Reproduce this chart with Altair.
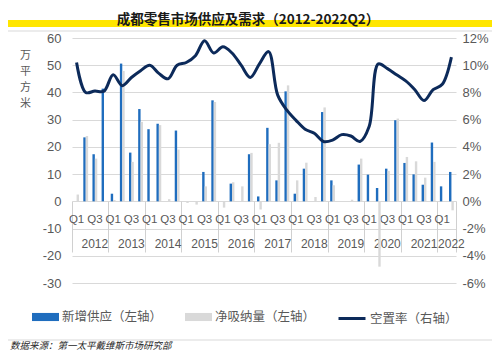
import altair as alt
import pandas as pd

# ---------------- data ----------------
years = [2012, 2013, 2014, 2015, 2016, 2017, 2018, 2019, 2020, 2021, 2022]
quarter_names = ["Q1", "Q2", "Q3", "Q4"]
quarters = [f"{y}{q}" for y in years for q in quarter_names][:42]

# 新增供应 (万平方米)
supply = [0, 23.5, 17.3, 41.4,
          2.8, 50.6, 17.9, 33.9,
          26.5, 28.5, 0, 26.0,
          0, 0, 10.8, 37.1,
          0, 6.5, 0, 17.3,
          1.8, 27.0, 7.7, 40.4,
          2.8, 12.0, 0, 32.8,
          7.7, 0, 0, 13.5,
          9.8, 4.9, 12.0, 29.8,
          14.1, 9.9, 6.1, 21.6,
          5.5, 10.8]

# 净吸纳量 (万平方米)
absorption = [2.5, 24.0, 15.7, 0,
              0.5, 47.9, 14.5, 29.2,
              0, 28.0, 0.8, 19.0,
              -0.6, -1.2, 5.5, 36.5,
              -2.3, 7.0, 5.5, 17.8,
              -3.0, 21.0, 21.5, 42.6,
              7.7, 14.2, 1.6, 34.5,
              5.9, 0, 0.6, 15.7,
              0, -24.0, 11.2, 30.4,
              16.3, 14.7, 8.7, 14.5,
              0, -3.3]

# 空置率 (%)
vacancy = [10.2, 8.0, 8.1, 8.1,
           9.3, 8.5, 9.1, 9.6,
           10.0, 9.4, 9.0, 10.0,
           10.2, 10.7, 11.8, 10.9,
           11.35, 10.9, 10.0, 9.1,
           10.1, 11.0, 7.8, 6.7,
           5.95, 5.3, 5.0, 4.4,
           4.5, 4.9, 4.8, 4.4,
           5.5, 10.1, 9.75, 9.3,
           8.85, 8.2, 7.4, 8.2,
           8.6, 10.6]

S1 = "新增供应（左轴）"
S2 = "净吸纳量（左轴）"
S3 = "空置率（右轴）"
TITLE = "成都零售市场供应及需求（2012-2022Q2）"
SOURCE = "数据来源：第一太平戴维斯市场研究部"

left_ticks = [-30, -20, -10, 0, 10, 20, 30, 40, 50, 60]
right_ticks = [-0.06, -0.04, -0.02, 0, 0.02, 0.04, 0.06, 0.08, 0.10, 0.12]

# ---------------- styling ----------------
BLUE = "#1F6DBE"
GRAY = "#D9D9D9"
NAVY = "#0C2A5A"
YELLOW = "#FFE600"
TXT = "#595959"
CJK = "Noto Sans CJK SC"
NUM = "Liberation Sans"

W, H = 384, 245
ZERO_OFF = -82  # move category axes up to the zero line

bars_df = pd.DataFrame({
    "quarter": quarters * 2,
    "series": [S1] * len(quarters) + [S2] * len(quarters),
    "value": supply + absorption,
})
line_df = pd.DataFrame({
    "quarter": quarters,
    "rate": [v / 100 for v in vacancy],
    "s": [S3] * len(quarters),
})
one = pd.DataFrame({"k": [0]})

xs = alt.Scale(type="band", domain=quarters, paddingInner=0, paddingOuter=0)

q_vals = [q for q in quarters if q[-2:] in ("Q1", "Q3")]
year_vals = [q for q in quarters if q[-2:] == "Q3"] + ["2022Q2"]
sep_vals = [q for q in quarters if q[-2:] == "Q1"]

bars = alt.Chart(bars_df).mark_bar().encode(
    x=alt.X("quarter:N", scale=xs, sort=quarters,
            axis=alt.Axis(orient="bottom", offset=ZERO_OFF, values=q_vals,
                          labelExpr="substring(datum.value, 4)", ticks=False,
                          domain=False, grid=False, labelAngle=0, labelPadding=12,
                          labelFontSize=11.5, labelColor=TXT, labelFont=NUM,
                          labelOverlap=False, title=None)),
    xOffset=alt.XOffset("series:N", scale=alt.Scale(domain=[S1, S2], paddingInner=0,
                                                    paddingOuter=0.9)),
    y=alt.Y("value:Q", scale=alt.Scale(domain=[-30, 60], nice=False, zero=False),
            axis=alt.Axis(orient="left", values=left_ticks, grid=True, gridColor=GRAY,
                          gridWidth=1, ticks=False, domain=False, labelPadding=11,
                          labelFontSize=13, labelColor=TXT, labelFont=NUM,
                          labelExpr="replace(datum.label, '\u2212', '-')",
                          title=["万", "平", "方", "米"], titleAngle=0, titleX=-47,
                          titleY=11, titleBaseline="top", titleAlign="center",
                          titleLineHeight=16, titleFontSize=11, titleFont=CJK,
                          titleFontWeight="normal", titleColor=TXT)),
    fill=alt.Fill("series:N", scale=alt.Scale(domain=[S1, S2], range=[BLUE, GRAY]),
                  legend=alt.Legend(orient="none", legendX=-40, legendY=265.5,
                                    direction="horizontal", title=None,
                                    symbolType="M-1,-0.3H1V0.3H-1Z", symbolSize=729,
                                    symbolStrokeWidth=0, labelFontSize=12.5,
                                    labelFont=CJK, labelColor=TXT, labelOffset=3,
                                    columnPadding=22, padding=0)),
)

line = alt.Chart(line_df).mark_line(interpolate="catmull-rom", strokeWidth=3).encode(
    x=alt.X("quarter:N", scale=xs, sort=quarters,
            axis=alt.Axis(orient="bottom", offset=ZERO_OFF, bandPosition=0,
                          values=year_vals,
                          labelExpr="datum.value == '2022Q2' ? '2022' : substring(datum.value, 0, 4)",
                          ticks=False, domain=False, grid=False, labelAngle=0,
                          labelPadding=37, labelFontSize=12, labelColor=TXT,
                          labelFont=NUM, labelOverlap=False, title=None)),
    y=alt.Y("rate:Q", scale=alt.Scale(domain=[-0.06, 0.12], nice=False, zero=False),
            axis=alt.Axis(orient="right", values=right_ticks, format=".0%", grid=False,
                          ticks=False, domain=False, labelPadding=6, labelFontSize=13,
                          labelColor=TXT, labelFont=NUM,
                          labelExpr="replace(datum.label, '\u2212', '-')", title=None)),
    stroke=alt.Stroke("s:N", scale=alt.Scale(domain=[S3], range=[NAVY]),
                      legend=alt.Legend(orient="none", legendX=265, legendY=265.5,
                                        title=None, symbolType="stroke", symbolSize=729,
                                        symbolStrokeWidth=3, labelFontSize=12.5,
                                        labelFont=CJK, labelColor=TXT, labelOffset=3,
                                        padding=0)),
)

sep = alt.Chart(line_df).mark_point(opacity=0).encode(
    x=alt.X("quarter:N", scale=xs, sort=quarters,
            axis=alt.Axis(orient="bottom", offset=ZERO_OFF, bandPosition=0,
                          values=sep_vals, labels=False, ticks=True, tickSize=51,
                          tickColor="#D0D0D0", tickWidth=1, domain=False, grid=False,
                          title=None)),
)
sep_end = alt.Chart(line_df).mark_point(opacity=0).encode(
    x=alt.X("quarter:N", scale=xs, sort=quarters,
            axis=alt.Axis(orient="bottom", offset=ZERO_OFF, bandPosition=1,
                          values=["2022Q2"], labels=False, ticks=True, tickSize=51,
                          tickColor="#D0D0D0", tickWidth=1, domain=False, grid=False,
                          title=None)),
)

band = alt.Chart(one).mark_rect(color=YELLOW).encode(
    x=alt.value(-64), x2=alt.value(420), y=alt.value(-18), y2=alt.value(-11))
frame_top = alt.Chart(one).mark_rule(color=GRAY, strokeWidth=1).encode(
    x=alt.value(-64), x2=alt.value(420), y=alt.value(-7))
frame_bot = alt.Chart(one).mark_rule(color=GRAY, strokeWidth=1).encode(
    x=alt.value(-64), x2=alt.value(420), y=alt.value(302))
title = alt.Chart(one).mark_text(font=CJK, fontSize=13.5, fontWeight="bold",
                                 color="#1A1A1A", baseline="middle", align="center").encode(
    x=alt.value(176), y=alt.value(-18), text=alt.value(TITLE))
source = alt.Chart(one).mark_text(font=CJK, fontSize=9.5, fontStyle="italic",
                                  color="#262626", baseline="middle", align="left").encode(
    x=alt.value(-62), y=alt.value(308), text=alt.value(SOURCE))

chart = alt.layer(band, frame_top, frame_bot, title, source, sep, sep_end, bars, line).resolve_scale(
    y="independent"
).resolve_axis(
    x="independent"
).properties(
    width=W, height=H,
    autosize=alt.AutoSizeParams(type="none"),
    padding={"left": 64, "top": 30, "right": 36, "bottom": 68},
).configure_view(stroke=None)

chart.save("out.html", embed_options={"renderer": "svg", "actions": False})
